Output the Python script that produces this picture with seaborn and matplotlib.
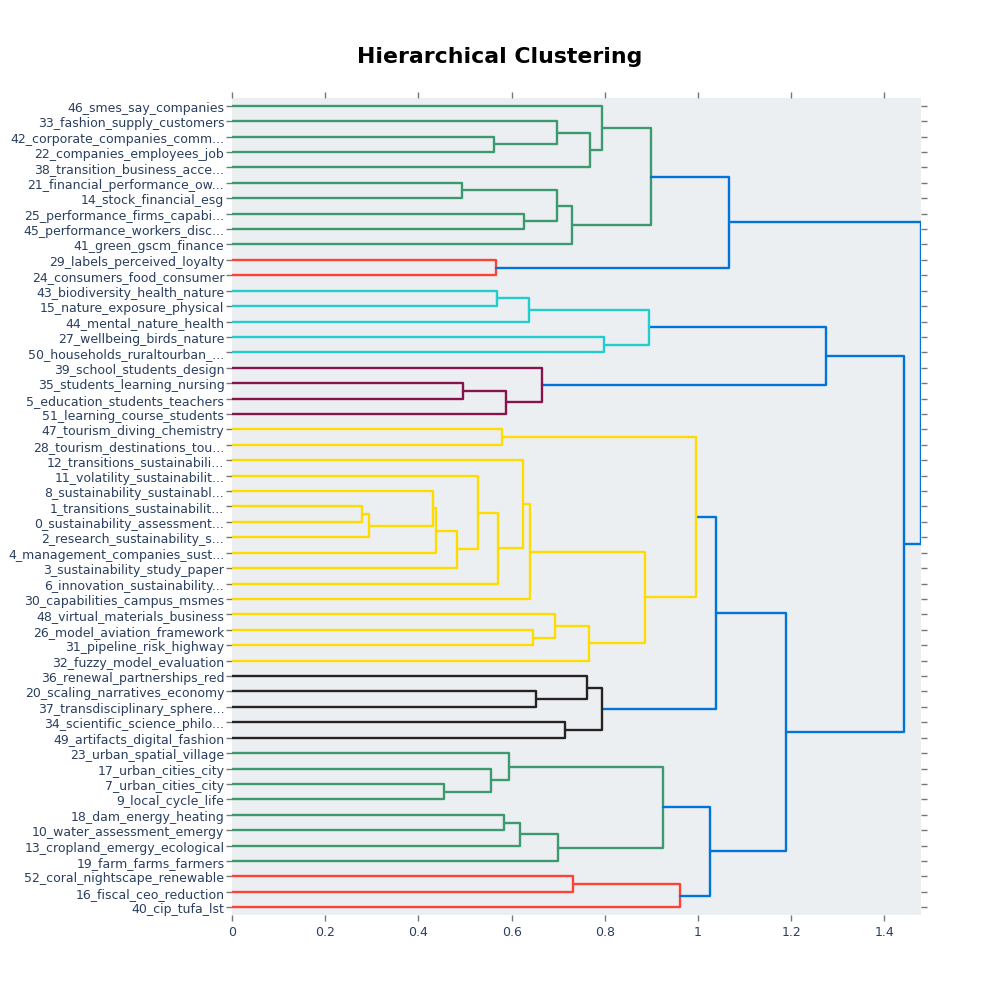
import matplotlib
matplotlib.use("Agg")
import matplotlib.pyplot as plt
import seaborn as sns
import pandas as pd

# ---- data -------------------------------------------------------------
leaf_labels = [
    "46_smes_say_companies", "33_fashion_supply_customers",
    "42_corporate_companies_comm...", "22_companies_employees_job",
    "38_transition_business_acce...", "21_financial_performance_ow...",
    "14_stock_financial_esg", "25_performance_firms_capabi...",
    "45_performance_workers_disc...", "41_green_gscm_finance",
    "29_labels_perceived_loyalty", "24_consumers_food_consumer",
    "43_biodiversity_health_nature", "15_nature_exposure_physical",
    "44_mental_nature_health", "27_wellbeing_birds_nature",
    "50_households_ruraltourban_...", "39_school_students_design",
    "35_students_learning_nursing", "5_education_students_teachers",
    "51_learning_course_students", "47_tourism_diving_chemistry",
    "28_tourism_destinations_tou...", "12_transitions_sustainabili...",
    "11_volatility_sustainabilit...", "8_sustainability_sustainabl...",
    "1_transitions_sustainabilit...", "0_sustainability_assessment...",
    "2_research_sustainability_s...", "4_management_companies_sust...",
    "3_sustainability_study_paper", "6_innovation_sustainability...",
    "30_capabilities_campus_msmes", "48_virtual_materials_business",
    "26_model_aviation_framework", "31_pipeline_risk_highway",
    "32_fuzzy_model_evaluation", "36_renewal_partnerships_red",
    "20_scaling_narratives_economy", "37_transdisciplinary_sphere...",
    "34_scientific_science_philo...", "49_artifacts_digital_fashion",
    "23_urban_spatial_village", "17_urban_cities_city",
    "7_urban_cities_city", "9_local_cycle_life",
    "18_dam_energy_heating", "10_water_assessment_emergy",
    "13_cropland_emergy_ecological", "19_farm_farms_farmers",
    "52_coral_nightscape_renewable", "16_fiscal_ceo_reduction",
    "40_cip_tufa_lst",
]

# merges: node ids 0..52 are leaves, merge k creates node 53+k
merge_left = [2, 1, 54, 0, 5, 7, 57, 59, 56, 10, 61,
              12, 64, 15, 65, 18, 68, 17, 67,
              21, 26, 73, 25, 75, 76, 24, 78, 23, 80, 34, 33, 83, 81, 72,
              38, 37, 40, 88, 86,
              44, 43, 42, 46, 95, 96, 94, 50, 99, 98, 91, 71, 63]
merge_right = [3, 53, 4, 55, 6, 8, 58, 9, 60, 11, 62,
               13, 14, 16, 66, 19, 20, 69, 70,
               22, 27, 28, 74, 29, 30, 77, 31, 79, 32, 35, 82, 36, 84, 85,
               39, 87, 41, 89, 90,
               45, 92, 93, 47, 48, 49, 97, 51, 52, 100, 101, 102, 103]
merge_height = [0.563, 0.698, 0.768, 0.795, 0.493, 0.626, 0.698, 0.729, 0.899, 0.567, 1.067,
                0.569, 0.638, 0.798, 0.895, 0.496, 0.588, 0.665, 1.275,
                0.580, 0.280, 0.294, 0.432, 0.437, 0.483, 0.529, 0.571, 0.624, 0.640,
                0.646, 0.693, 0.767, 0.886, 0.995,
                0.653, 0.761, 0.714, 0.793, 1.039,
                0.456, 0.555, 0.594, 0.583, 0.618, 0.700, 0.925, 0.731, 0.961,
                1.026, 1.188, 1.442, 1.478]
merge_color = ["green"] * 9 + ["red", "blue"] + \
              ["cyan"] * 4 + ["purple"] * 3 + ["blue"] + \
              ["yellow"] * 15 + \
              ["black"] * 4 + ["blue"] + \
              ["green"] * 7 + ["red"] * 2 + ["blue"] * 4

palette = {
    "green": "#3D9970", "red": "#FF4136", "blue": "#0074D9",
    "cyan": "#23CDCD", "purple": "#85144B", "yellow": "#FFDC00",
    "black": "#282323",
}

# ---- build dendrogram segments ---------------------------------------
n = len(leaf_labels)
pos = {i: 5 + 10 * i for i in range(n)}
hgt = {i: 0.0 for i in range(n)}
rows = []
for k, (a, b, h, c) in enumerate(zip(merge_left, merge_right, merge_height, merge_color)):
    node = n + k
    pts = [(hgt[a], pos[a]), (h, pos[a]), (h, pos[b]), (hgt[b], pos[b])]
    for j, (x, y) in enumerate(pts):
        rows.append({"seg": k, "order": j, "x": x, "y": y, "color": c})
    pos[node] = (pos[a] + pos[b]) / 2
    hgt[node] = h
df = pd.DataFrame(rows)

# ---- plot -------------------------------------------------------------
sns.set_theme(style="white")
plt.rcParams["font.family"] = ["DejaVu Sans"]

fig = plt.figure(figsize=(10, 9.95), dpi=100)
ax = fig.add_axes([0.232, 0.0794, 0.6887, 0.8211])
ax.set_facecolor("#ECEFF1")

sns.lineplot(data=df, x="x", y="y", units="seg", estimator=None, sort=False,
             hue="color", palette=palette, legend=False, linewidth=1.7,
             ax=ax)

ax.set_xlim(0, max(merge_height))
ax.set_ylim(10 * n, 0)
ax.set_xticks([0, 0.2, 0.4, 0.6, 0.8, 1.0, 1.2, 1.4])
ax.set_xticklabels(["0", "0.2", "0.4", "0.6", "0.8", "1", "1.2", "1.4"])
ax.set_yticks([5 + 10 * i for i in range(n)])
ax.set_yticklabels(leaf_labels)
ax.set_xlabel("")
ax.set_ylabel("")
for s in ax.spines.values():
    s.set_visible(False)

ax.tick_params(axis="y", which="both", left=True, right=True, labelleft=True,
               direction="out", length=4, width=1, color="#777777",
               pad=1.5, labelsize=9.0, labelcolor="#2A3F5F")
ax.tick_params(axis="x", which="both", top=True, bottom=True, labelbottom=True,
               direction="out", length=4, width=1, color="#777777",
               pad=3, labelsize=9.0, labelcolor="#2A3F5F")

fig.text(0.5, 0.9427, "Hierarchical Clustering", ha="center", va="center",
         fontsize=15.8, fontweight="bold", color="black",
         family=["DejaVu Sans"])

fig.savefig("out.png", dpi=100, facecolor="white")
